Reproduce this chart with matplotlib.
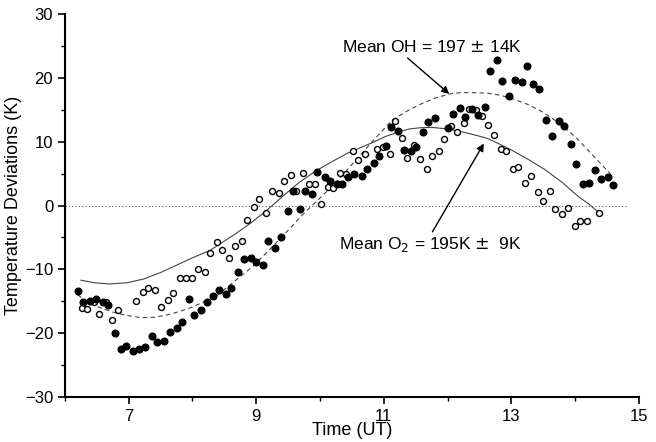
import numpy as np
import matplotlib
matplotlib.use("Agg")
import matplotlib.pyplot as plt
from matplotlib.ticker import MultipleLocator

plt.rcParams['font.family'] = ['Liberation Sans', 'DejaVu Sans']

# filled circles (OH)
oh_t = [6.20, 6.29, 6.39, 6.48, 6.59, 6.68, 6.79, 6.88, 6.96, 7.06, 7.16, 7.26, 7.36, 7.45, 7.55,
        7.65, 7.75, 7.83, 7.94, 8.03, 8.14, 8.23, 8.32, 8.42, 8.52, 8.60, 8.71, 8.80, 8.91, 9.00,
        9.10, 9.19, 9.29, 9.38, 9.49, 9.58, 9.68, 9.77, 9.87, 9.95, 10.07, 10.16, 10.26, 10.35, 10.44,
        10.53, 10.65, 10.74, 10.84, 10.93, 11.03, 11.12, 11.22, 11.32, 11.42, 11.51, 11.61, 11.70, 11.81,
        12.00, 12.08, 12.19, 12.28, 12.38, 12.47, 12.58, 12.67, 12.77, 12.86, 12.97, 13.05, 13.16, 13.25,
        13.34, 13.44, 13.55, 13.64, 13.74, 13.83, 13.94, 14.02, 14.13, 14.22, 14.31, 14.41, 14.52, 14.59]
oh_dT = [-13.4, -15.2, -15.0, -14.7, -15.2, -15.6, -20.0, -22.5, -22.0, -22.8, -22.5, -22.2, -20.4, -21.4, -21.2,
         -19.9, -19.2, -18.2, -14.6, -17.1, -16.4, -15.2, -14.2, -13.2, -13.8, -12.9, -10.4, -8.4, -8.2, -8.9,
         -9.4, -5.6, -6.6, -4.9, -0.9, 2.2, -0.5, 2.2, 1.8, 5.2, 4.4, 3.9, 3.3, 3.3, 4.4,
         4.9, 4.7, 5.8, 6.6, 7.7, 9.4, 12.3, 11.7, 8.7, 8.5, 9.2, 11.6, 13.1, 13.7,
         12.2, 14.3, 15.3, 13.8, 15.2, 14.2, 15.4, 21.1, 22.8, 19.5, 17.2, 19.6, 19.3, 21.8,
         19.1, 18.2, 13.4, 10.9, 13.2, 12.5, 9.6, 6.5, 3.3, 3.5, 5.5, 4.2, 4.4, 3.2]

# open circles (O2)
o2_t = [6.26, 6.34, 6.45, 6.54, 6.64, 6.73, 6.83, 7.12, 7.22, 7.31, 7.41, 7.51, 7.61, 7.70, 7.80,
        7.90, 8.00, 8.08, 8.19, 8.28, 8.39, 8.47, 8.58, 8.67, 8.77, 8.86, 8.96, 9.05, 9.16, 9.25,
        9.35, 9.44, 9.54, 9.63, 9.73, 9.82, 9.92, 10.02, 10.12, 10.21, 10.32, 10.40, 10.51, 10.60, 10.70,
        10.90, 10.99, 11.09, 11.18, 11.28, 11.37, 11.47, 11.56, 11.67, 11.76, 11.86, 11.95, 12.06, 12.15,
        12.25, 12.33, 12.44, 12.54, 12.63, 12.72, 12.83, 12.92, 13.02, 13.11, 13.21, 13.30, 13.41, 13.49,
        13.60, 13.69, 13.79, 13.88, 13.99, 14.07, 14.18, 14.37]
o2_dT = [-16.0, -16.2, -15.2, -17.0, -15.2, -17.9, -16.3, -14.9, -13.5, -13.0, -13.3, -15.9, -14.8, -13.7, -11.4,
         -11.3, -11.3, -10.0, -10.4, -7.5, -5.7, -6.9, -8.3, -6.3, -5.6, -2.2, -0.3, 1.1, -1.2, 2.2,
         1.9, 3.9, 4.8, 2.3, 5.1, 3.3, 3.3, 0.3, 2.9, 2.7, 5.1, 5.0, 8.5, 7.1, 8.0,
         8.8, 9.1, 8.1, 13.2, 10.6, 7.4, 9.5, 7.3, 5.8, 7.8, 8.5, 10.4, 12.5, 11.5,
         12.9, 15.1, 14.9, 14.0, 12.7, 11.0, 8.9, 8.5, 5.8, 6.1, 3.6, 4.6, 2.1, 0.7,
         2.3, -0.6, -1.4, -0.4, -3.2, -2.4, -2.4, -1.2]

# fitted curves
fit_oh_t = [6.20, 6.35, 6.52, 6.75, 6.95, 7.21, 7.40, 7.58, 7.80, 8.00, 8.20, 8.36, 8.68, 8.95, 9.20,
            9.46, 9.72, 9.98, 10.24, 10.47, 10.80, 11.13, 11.38, 11.60, 11.82, 12.04, 12.20, 12.38, 12.64,
            12.82, 13.00, 13.27, 13.48, 13.68, 13.87, 14.05, 14.32, 14.55]
fit_oh = [-14.0, -15.1, -15.9, -16.7, -17.2, -17.6, -17.5, -17.2, -16.6, -15.9, -15.0, -14.3, -11.7, -9.5, -7.0,
          -4.3, -1.5, 1.0, 3.5, 6.1, 9.8, 13.4, 14.9, 16.0, 16.9, 17.5, 17.7, 17.7, 17.6,
          17.3, 16.8, 15.8, 14.7, 13.4, 11.9, 10.3, 7.4, 5.0]
fit_o2_t = [6.25, 6.46, 6.70, 6.98, 7.24, 7.50, 7.76, 8.00, 8.28, 8.65, 8.92, 9.17, 9.42, 9.67, 9.93,
            10.19, 10.45, 10.83, 11.02, 11.22, 11.40, 11.58, 11.75, 12.00, 12.25, 12.45, 12.63, 12.80,
            13.00, 13.27, 13.53, 13.80, 14.05, 14.22, 14.37]
fit_o2 = [-11.7, -12.1, -12.3, -12.1, -11.5, -10.5, -9.3, -8.2, -7.0, -4.6, -2.7, -0.7, 1.5, 3.6, 5.4,
          6.9, 8.3, 9.9, 10.8, 11.5, 12.0, 12.2, 12.25, 12.0, 11.5, 11.0, 10.5, 9.7,
          8.7, 7.2, 5.6, 3.6, 1.4, 0.2, -1.1]

fig = plt.figure(figsize=(6.56, 4.42), dpi=100)
ax = fig.add_axes([0.099, 0.102, 0.875, 0.866])

ax.plot([6, 14.82], [0, 0], ls=(0, (1, 2)), color='#555555', lw=0.8)
ax.plot(fit_o2_t, fit_o2, '-', color='#444444', lw=0.8)
ax.plot(fit_oh_t, fit_oh, ls=(0, (4, 3)), color='#444444', lw=0.8)
ax.plot(o2_t, o2_dT, 'o', mfc='white', mec='black', mew=1.0, ms=4.3)
ax.plot(oh_t, oh_dT, 'o', mfc='black', mec='black', ms=4.8)

ax.annotate('', xy=(12.06, 17.2), xytext=(11.34, 23.4),
            arrowprops=dict(arrowstyle='-|>', color='black', lw=1.0, mutation_scale=11))
ax.annotate('', xy=(12.59, 10.1), xytext=(11.74, -4.5),
            arrowprops=dict(arrowstyle='-|>', color='black', lw=1.0, mutation_scale=11))
ax.text(10.34, 24.1, 'Mean OH = 197 $\\pm$ 14K', fontsize=12.5, va='baseline', ha='left')
ax.text(10.30, -6.8, 'Mean O$_2$ = 195K $\\pm$  9K', fontsize=12.5, va='baseline', ha='left')

ax.set_xlim(6, 15)
ax.set_ylim(-30, 30)
ax.set_xticks([7, 9, 11, 13, 15])
ax.xaxis.set_minor_locator(MultipleLocator(1))
ax.yaxis.set_major_locator(MultipleLocator(10))
ax.yaxis.set_minor_locator(MultipleLocator(5))
ax.tick_params(which='major', direction='out', length=5, width=1.2, labelsize=12)
ax.tick_params(which='minor', direction='out', length=3, width=1.0)
ax.spines['top'].set_visible(False)
ax.spines['right'].set_visible(False)
ax.spines['left'].set_linewidth(1.5)
ax.spines['bottom'].set_linewidth(1.5)
ax.set_xlabel('Time (UT)', fontsize=13, labelpad=-1)
ax.set_ylabel('Temperature Deviations (K)', fontsize=13, labelpad=2)

fig.savefig('out.png', dpi=100)
